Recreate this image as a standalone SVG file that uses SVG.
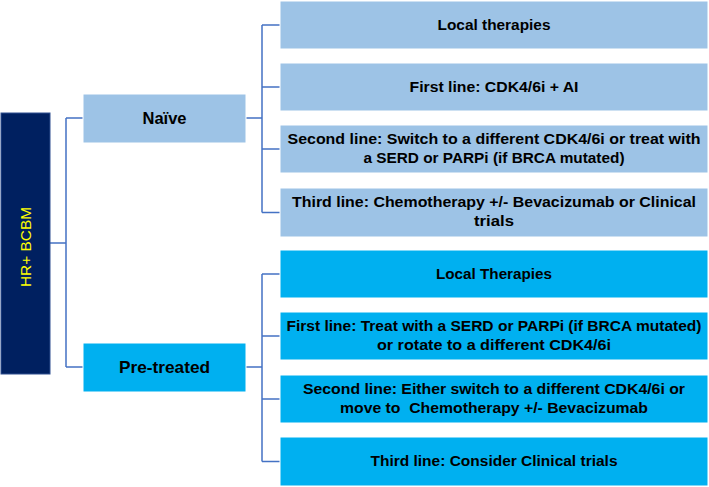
<svg xmlns="http://www.w3.org/2000/svg" width="709" height="487" viewBox="0 0 709 487">
<style>
.root{fill:#002060;stroke:#2f4f8f;stroke-width:1}
.lb{fill:#9DC3E6;stroke:#ffffff;stroke-width:1}
.bb{fill:#00B0F0;stroke:#ffffff;stroke-width:1}
.t{font-family:"Liberation Sans",Arial,sans-serif;font-weight:bold;font-size:15px;fill:#000;text-anchor:middle}
.tm{font-family:"Liberation Sans",Arial,sans-serif;font-weight:bold;font-size:16.5px;fill:#000;text-anchor:middle}
.rt{font-family:"Liberation Sans",Arial,sans-serif;font-size:15px;fill:#FFFF00;text-anchor:middle}
.c{fill:none;stroke:#4472C4;stroke-width:1.5}
</style>
<rect width="709" height="487" fill="#ffffff"/>
<g id="connectors">
<path class="c" d="M50,243 H66 M66,118 V367 M66,118 H83 M66,367 H83"/>
<path class="c" d="M246,118 H262 M262,25 V212.5 M262,25 H280 M262,87 H280 M262,149 H280 M262,212.5 H280"/>
<path class="c" d="M246,367 H262 M262,274 V461.5 M262,274 H280 M262,336 H280 M262,399 H280 M262,461.5 H280"/>
</g>
<g id="root">
<rect class="root" x="1" y="113" width="49" height="261"/>
<text class="rt" transform="translate(30.5,247) rotate(-90)" textLength="80" lengthAdjust="spacingAndGlyphs">HR+ BCBM</text>
</g>
<g id="naive">
<rect class="lb" x="83" y="94" width="163" height="49"/>
<text class="tm" x="164.5" y="124" textLength="44" lengthAdjust="spacingAndGlyphs">Naïve</text>
</g>
<g id="pretreated">
<rect class="bb" x="83" y="343" width="163" height="49"/>
<text class="tm" x="164.5" y="373" textLength="91" lengthAdjust="spacingAndGlyphs">Pre-treated</text>
</g>
<g id="n1">
<rect class="lb" x="280" y="1" width="428" height="48"/>
<text class="t" x="494" y="30" textLength="113" lengthAdjust="spacingAndGlyphs">Local therapies</text>
</g>
<g id="n2">
<rect class="lb" x="280" y="63" width="428" height="48"/>
<text class="t" x="494" y="92" textLength="169" lengthAdjust="spacingAndGlyphs">First line: CDK4/6i + AI</text>
</g>
<g id="n3">
<rect class="lb" x="280" y="125" width="428" height="48"/>
<text class="t" x="494" y="144" textLength="413" lengthAdjust="spacingAndGlyphs">Second line: Switch to a different CDK4/6i or treat with</text>
<text class="t" x="494" y="163" textLength="261" lengthAdjust="spacingAndGlyphs">a SERD or PARPi (if BRCA mutated)</text>
</g>
<g id="n4">
<rect class="lb" x="280" y="188" width="428" height="49"/>
<text class="t" x="494" y="207" textLength="404" lengthAdjust="spacingAndGlyphs">Third line: Chemotherapy +/- Bevacizumab or Clinical</text>
<text class="t" x="494" y="226" textLength="40" lengthAdjust="spacingAndGlyphs">trials</text>
</g>
<g id="p1">
<rect class="bb" x="280" y="250" width="428" height="48"/>
<text class="t" x="494" y="279" textLength="116" lengthAdjust="spacingAndGlyphs">Local Therapies</text>
</g>
<g id="p2">
<rect class="bb" x="280" y="312" width="428" height="48"/>
<text class="t" x="494" y="331" textLength="415" lengthAdjust="spacingAndGlyphs">First line: Treat with a SERD or PARPi (if BRCA mutated)</text>
<text class="t" x="494" y="350" textLength="234" lengthAdjust="spacingAndGlyphs">or rotate to a different CDK4/6i</text>
</g>
<g id="p3">
<rect class="bb" x="280" y="375" width="428" height="48"/>
<text class="t" x="494" y="394" textLength="382" lengthAdjust="spacingAndGlyphs">Second line: Either switch to a different CDK4/6i or</text>
<text class="t" x="494" y="413" textLength="308" lengthAdjust="spacingAndGlyphs" xml:space="preserve">move to  Chemotherapy +/- Bevacizumab</text>
</g>
<g id="p4">
<rect class="bb" x="280" y="437" width="428" height="49"/>
<text class="t" x="494" y="466" textLength="247" lengthAdjust="spacingAndGlyphs">Third line: Consider Clinical trials</text>
</g>
</svg>
